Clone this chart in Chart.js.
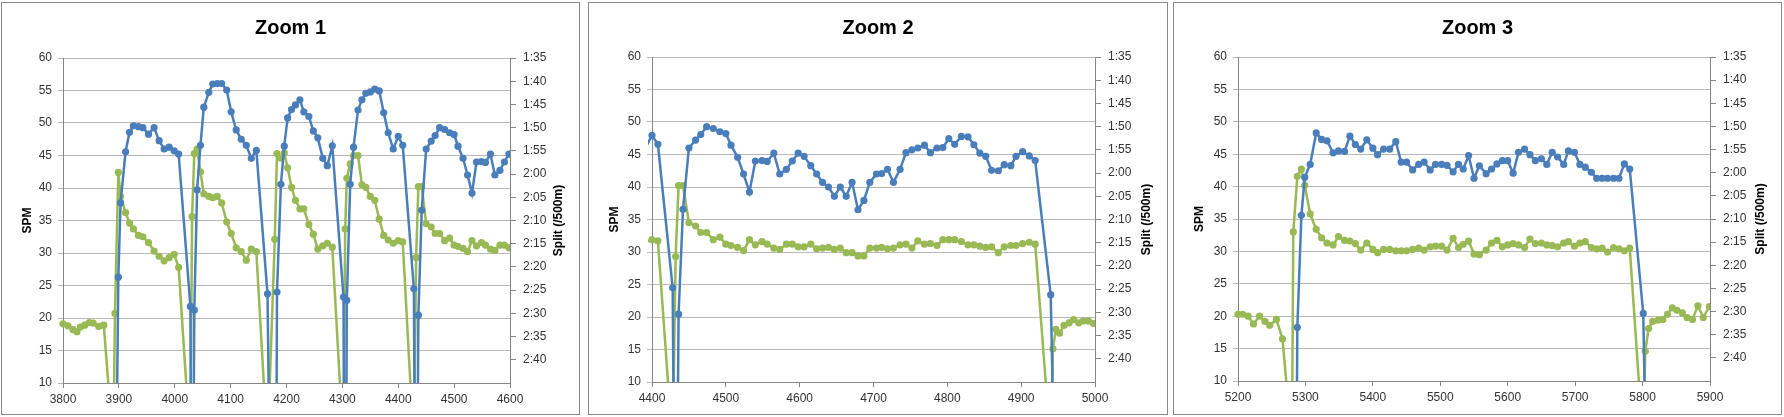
<!DOCTYPE html>
<html>
<head>
<meta charset="utf-8">
<script src="https://cdn.jsdelivr.net/npm/chart.js@4.4.0/dist/chart.umd.min.js"></script>
<style>
  html, body { margin: 0; padding: 0; background: #fff; }
  body { width: 1784px; height: 417px; position: relative; overflow: hidden; }
  .panel { position: absolute; top: 2px; height: 413px; box-sizing: border-box; border: 1px solid #8a8a8a; background: #fff; }
  .panel canvas { display: block; }
</style>
</head>
<body>
<div class="panel" style="left:1px;width:579px"><canvas id="zoom1" width="577" height="411"></canvas></div>
<div class="panel" style="left:588px;width:580px"><canvas id="zoom2" width="578" height="411"></canvas></div>
<div class="panel" style="left:1173px;width:609px"><canvas id="zoom3" width="607" height="411"></canvas></div>
<script>
// Stroke data: distance (m), stroke rate (SPM) and split (seconds per 500m)
// null split = off the chart (resting), null row = gap between the two pieces
const distance = [
  3800, 3809, 3818, 3825, 3831, 3839, 3847, 3854, 3864, 3873,
  3890, 3893, 3899, 3903, 3912, 3919, 3926, 3935, 3943, 3953,
  3963, 3972, 3981, 3990, 3999, 4007, 4028, 4031, 4035, 4040,
  4046, 4052, 4061, 4068, 4076, 4084, 4093, 4101, 4110, 4119,
  4128, 4137, 4146, 4166, 4179, 4183, 4190, 4196, 4202, 4209,
  4216, 4224, 4231, 4240, 4248, 4256, 4265, 4273, 4282, 4302,
  4305, 4308, 4314, 4320, 4328, 4335, 4342, 4350, 4358, 4366,
  4374, 4382, 4391, 4400, 4408, 4428, 4432, 4436, 4442, 4450,
  4459, 4466, 4474, 4483, 4492, 4500, 4507, 4516, 4524, 4532,
  4540, 4549, 4556, 4565, 4573, 4582, 4590, 4598, 4606, 4615,
  4623, 4631, 4639, 4647, 4655, 4663, 4671, 4679, 4687, 4695,
  4704, 4711, 4719, 4727, 4736, 4744, 4752, 4760, 4769, 4777,
  4786, 4794, 4802, 4810, 4819, 4828, 4836, 4844, 4852, 4860,
  4869, 4877, 4886, 4893, 4902, 4911, 4919, 4940, 4943, 4947,
  4952, 4958, 4965, 4971, 4978, 4984, 4991, 4998,
  null,
  5200, 5207, 5215, 5223, 5232, 5240, 5247, 5257, 5266, 5280,
  5282, 5288, 5294, 5299, 5307, 5316, 5324, 5332, 5341, 5349,
  5358, 5366, 5374, 5382, 5391, 5400, 5407, 5416, 5425, 5434,
  5442, 5450, 5459, 5468, 5476, 5485, 5493, 5502, 5510, 5519,
  5527, 5534, 5542, 5550, 5558, 5568, 5576, 5584, 5592, 5600,
  5608, 5616, 5625, 5633, 5641, 5650, 5658, 5666, 5674, 5683,
  5690, 5699, 5707, 5715, 5724, 5732, 5740, 5748, 5757, 5765,
  5773, 5781, 5801, 5804, 5809, 5815, 5823, 5830, 5837, 5844,
  5851, 5859, 5866, 5874, 5882, 5890, 5899
];

const spm = [
  19.1, 18.8, 18.2, 17.9, 18.6, 18.9, 19.3, 19.2, 18.7, 18.9,
  0, 20.7, 42.4, 38.7, 36.2, 34.6, 33.7, 32.7, 32.5, 31.6,
  30.3, 29.5, 28.8, 29.3, 29.8, 27.8, 0, 35.6, 45.3, 46.0,
  42.5, 39.1, 38.7, 38.5, 38.7, 37.7, 34.8, 33.0, 30.8, 30.2,
  28.9, 30.6, 30.2, 0, 32.1, 45.3, 44.6, 45.4, 43.1, 40.1,
  38.1, 36.8, 36.8, 34.4, 32.9, 30.6, 31.1, 31.5, 30.9, 0,
  33.7, 41.5, 43.7, 45.0, 45.0, 40.5, 40.1, 38.7, 38.1, 35.2,
  32.7, 32.0, 31.5, 31.9, 31.7, 0, 29.3, 40.2, 40.2, 34.5,
  34.0, 33.0, 33.0, 31.9, 32.3, 31.2, 31.0, 30.7, 30.2, 31.9,
  31.1, 31.6, 31.2, 30.6, 30.4, 31.2, 31.2, 30.8, 30.8, 31.2,
  30.5, 30.6, 30.7, 30.4, 30.6, 29.9, 29.9, 29.4, 29.4, 30.6,
  30.6, 30.7, 30.5, 30.6, 31.1, 31.2, 30.6, 31.7, 31.2, 31.3,
  31.0, 31.9, 31.9, 31.9, 31.6, 31.1, 31.1, 30.9, 30.7, 30.8,
  29.9, 30.8, 31.0, 31.0, 31.3, 31.5, 31.2, 0, 15.1, 18.1,
  17.5, 18.7, 19.1, 19.6, 19.1, 19.4, 19.4, 19.0,
  null,
  20.3, 20.3, 20.0, 18.8, 20.0, 19.2, 18.6, 19.5, 16.5, 0,
  33.0, 41.6, 42.7, 40.2, 35.8, 33.4, 32.1, 31.3, 31.0, 32.3,
  31.7, 31.6, 31.2, 30.2, 31.3, 30.3, 29.8, 30.3, 30.3, 30.1,
  30.1, 30.1, 30.3, 30.5, 30.2, 30.7, 30.8, 30.8, 30.2, 32.0,
  30.6, 31.1, 31.6, 29.6, 29.5, 30.2, 31.3, 31.7, 30.7, 31.0,
  31.2, 31.0, 30.6, 31.9, 31.2, 31.3, 31.0, 30.9, 30.7, 31.3,
  31.5, 30.8, 31.3, 31.5, 30.6, 30.4, 30.5, 29.9, 30.6, 30.4,
  30.1, 30.5, 0, 14.6, 18.1, 19.2, 19.4, 19.5, 20.3, 21.3,
  20.9, 20.5, 19.8, 19.5, 21.6, 19.8, 21.5
];

const split = [
  null, null, null, null, null, null, null, null, null, null,
  215, 210, 142.2, 126.2, 115.2, 111.0, 109.6, 109.8, 110.0, 111.4,
  110.0, 112.8, 114.6, 114.2, 115.0, 115.7, 148.5, 230, 149.3, 123.4,
  113.8, 105.6, 102.4, 100.6, 100.5, 100.5, 101.9, 106.6, 110.5, 112.5,
  113.8, 116.6, 114.9, 145.8, 270, 145.4, 122.2, 114.0, 107.9, 106.1,
  105.1, 104.0, 106.6, 107.6, 110.7, 112.2, 116.6, 118.2, 113.9, 146.5,
  230, 147.2, 122.2, 114.2, 106.2, 104.0, 102.6, 102.3, 101.7, 102.1,
  106.8, 111.1, 114.6, 111.9, 113.8, 144.7, 230, 150.4, 127.8, 114.6,
  112.9, 111.7, 110.0, 110.4, 111.1, 111.5, 114.0, 116.6, 120.2, 124.1,
  117.4, 117.3, 117.5, 115.7, 120.2, 119.2, 117.4, 115.7, 116.4, 118.4,
  120.2, 122.0, 123.0, 125.0, 123.0, 125.0, 122.0, 127.9, 125.9, 122.0,
  120.2, 120.1, 119.2, 122.0, 119.2, 115.6, 115.0, 114.6, 114.0, 115.6,
  114.6, 114.5, 112.6, 113.8, 112.1, 112.2, 113.9, 115.7, 116.4, 119.4,
  119.5, 118.2, 118.4, 116.4, 115.4, 116.3, 117.3, 146.2, 169, null,
  null, null, null, null, null, null, null, null,
  null,
  null, null, null, null, null, null, null, null, null, null,
  300, 153.4, 129.2, 121.0, 118.2, 111.4, 112.8, 113.1, 115.7, 115.3,
  115.4, 112.1, 113.9, 114.9, 112.9, 114.7, 116.1, 114.9, 114.9, 113.3,
  117.7, 117.7, 119.4, 118.2, 117.7, 119.4, 118.2, 118.2, 118.4, 119.8,
  118.2, 119.2, 116.3, 121.2, 118.5, 120.2, 119.2, 118.1, 117.4, 117.4,
  120.1, 115.6, 114.9, 116.1, 117.4, 117.0, 118.2, 115.6, 116.6, 118.2,
  115.3, 115.6, 118.2, 118.8, 119.9, 121.2, 121.2, 121.2, 121.2, 121.2,
  118.1, 119.2, 150.4, 174, null, null, null, null, null, null,
  null, null, null, null, null, null, null
];

const zoomTitles = ['Zoom 1', 'Zoom 2', 'Zoom 3'];
const zoomFrom = [3800, 4400, 5200];
const zoomTo = [4600, 5000, 5900];

// box sizes per panel so the plot areas line up with the original
const panelLayout = [
  { left: 61, right: 69, bottom: 31, top: 55 },
  { left: 63, right: 72, bottom: 32, top: 54 },
  { left: 64, right: 71, bottom: 33, top: 54 }
];

Chart.defaults.font.family = '"Liberation Sans", Arial, sans-serif';
Chart.defaults.font.size = 12;
Chart.defaults.color = '#333';

function fmtSplit(v) {
    const m = Math.floor(v / 60);
    const s = Math.round(v - m * 60);
    return m + ':' + (s < 10 ? '0' : '') + s;
}

// right axis title reads bottom-to-top like the left one
const rightTitle = {
    id: 'rightTitle',
    afterDraw(chart) {
        const s = chart.scales.y1;
        const ctx = chart.ctx;
        ctx.save();
        ctx.translate(s.right - 20, (s.top + s.bottom) / 2);
        ctx.rotate(-Math.PI / 2);
        ctx.font = 'bold 12px "Liberation Sans", Arial, sans-serif';
        ctx.fillStyle = '#000';
        ctx.textAlign = 'center';
        ctx.textBaseline = 'middle';
        ctx.fillText('Split (/500m)', 0, 0);
        ctx.restore();
    }
};

const splitPoints = distance.map((d, i) => ({ x: d, y: split[i] }));
const spmPoints = distance.map((d, i) => ({ x: d, y: spm[i] }));

zoomTitles.forEach((title, i) => {
    const lay = panelLayout[i];
    const ctx = document.getElementById('zoom' + (i + 1)).getContext('2d');
    new Chart(ctx, {
        type: 'line',
        data: {
            datasets: [{
                label: 'Split',
                data: splitPoints,
                yAxisID: 'y1',
                borderColor: '#4a7ebb',
                backgroundColor: '#4a7ebb',
                borderWidth: 2.5,
                pointRadius: 3.6,
                pointBorderWidth: 0,
                tension: 0,
                clip: { left: 4, right: 0, top: 4, bottom: 0 }
            }, {
                label: 'SPM',
                data: spmPoints,
                yAxisID: 'y',
                borderColor: '#98b954',
                backgroundColor: '#98b954',
                borderWidth: 2.5,
                pointRadius: 3.6,
                pointBorderWidth: 0,
                tension: 0,
                clip: { left: 4, right: 0, top: 4, bottom: 0 }
            }]
        },
        options: {
            responsive: false,
            animation: false,
            layout: { padding: 0 },
            plugins: {
                legend: { display: false },
                tooltip: { enabled: false },
                title: {
                    display: true,
                    text: title,
                    color: '#000',
                    font: { size: 20, weight: 'bold' },
                    padding: { top: 13, bottom: lay.top - 37 }
                }
            },
            scales: {
                x: {
                    type: 'linear',
                    min: zoomFrom[i],
                    max: zoomTo[i],
                    afterFit: s => { s.height = lay.bottom; },
                    ticks: { stepSize: 100, padding: 4, callback: v => String(v) },
                    grid: { drawOnChartArea: false, tickLength: 5, color: '#868686' },
                    border: { color: '#868686' }
                },
                y: {
                    position: 'left',
                    min: 10,
                    max: 60,
                    afterFit: s => { s.width = lay.left; },
                    ticks: { stepSize: 5, padding: 6 },
                    grid: { color: '#b9b9b9', tickLength: 5 },
                    border: { color: '#868686' },
                    title: {
                        display: true,
                        text: 'SPM',
                        color: '#000',
                        font: { size: 12, weight: 'bold' },
                        padding: { top: 18, bottom: 0 }
                    }
                },
                y1: {
                    position: 'right',
                    min: 95,
                    max: 165,
                    reverse: true,
                    afterFit: s => { s.width = lay.right; },
                    ticks: {
                        stepSize: 5,
                        padding: 7,
                        callback: v => (v >= 165 ? null : fmtSplit(v))
                    },
                    grid: { drawOnChartArea: false, tickLength: 6, color: '#868686' },
                    border: { color: '#868686' }
                }
            }
        },
        plugins: [rightTitle]
    });
});
</script>
</body>
</html>
